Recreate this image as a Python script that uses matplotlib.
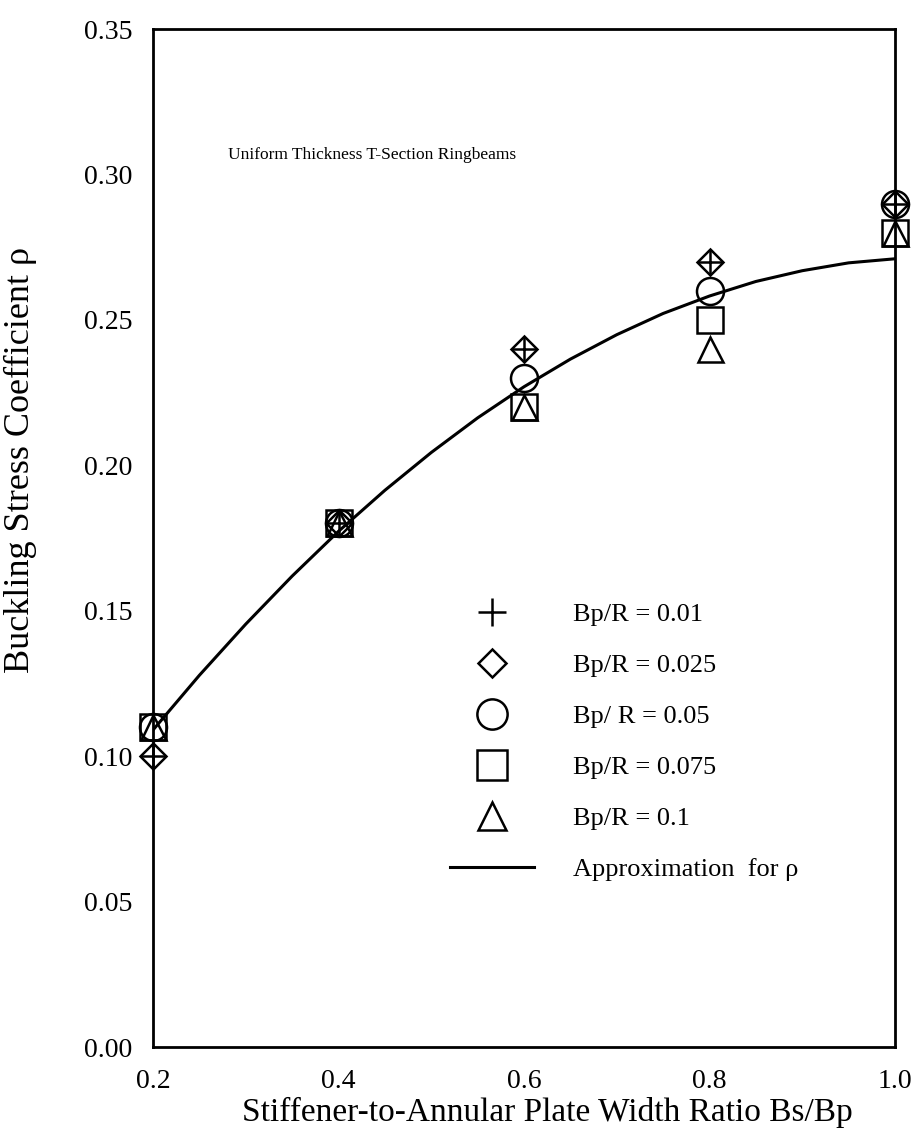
import numpy as np
import matplotlib.pyplot as plt
from matplotlib.lines import Line2D

plt.rcParams['font.family'] = ['Liberation Serif', 'DejaVu Serif']

# width ratio Bs/Bp
ratio = [0.2, 0.4, 0.6, 0.8, 1.0]

# buckling stress coefficient for each Bp/R
rho_001 = [0.10, 0.18, 0.24, 0.27, 0.29]
rho_0025 = [0.10, 0.18, 0.24, 0.27, 0.29]
rho_005 = [0.11, 0.18, 0.23, 0.26, 0.29]
rho_0075 = [0.11, 0.18, 0.22, 0.25, 0.28]
rho_01 = [0.11, 0.18, 0.22, 0.24, 0.28]

# approximation curve for rho
approx_x = [0.20, 0.25, 0.30, 0.35, 0.40, 0.45, 0.50, 0.55, 0.60,
            0.65, 0.70, 0.75, 0.80, 0.85, 0.90, 0.95, 1.00]
approx_y = [0.1090, 0.1278, 0.1454, 0.1619, 0.1773, 0.1914, 0.2044, 0.2163, 0.2270,
            0.2365, 0.2449, 0.2522, 0.2582, 0.2632, 0.2669, 0.2696, 0.2710]

labels = ['Bp/R = 0.01', 'Bp/R = 0.025', 'Bp/ R = 0.05', 'Bp/R = 0.075', 'Bp/R = 0.1']
x_ticks = [0.2, 0.4, 0.6, 0.8, 1.0]
y_ticks = [0.00, 0.05, 0.10, 0.15, 0.20, 0.25, 0.30, 0.35]

px = 72.0 / 100  # points per pixel
mew = 1.8

fig = plt.figure(figsize=(9.19, 11.33), dpi=100)
ax = fig.add_axes([0.1665, 0.0759, 0.8074, 0.8985])

ax.plot(approx_x, approx_y, color='black', lw=2.2, zorder=2)

styles = [('+', 25), ('D', 18), ('o', 27), ('s', 27), ('^', 25)]
series = [rho_001, rho_0025, rho_005, rho_0075, rho_01]
handles = []
for (m, size), vals, lab in zip(styles, series, labels):
    ax.plot(ratio, vals, ls='none', marker=m, ms=size * px, mfc='none',
            mec='black', mew=mew, zorder=3, clip_on=False)
    handles.append(Line2D([], [], ls='none', marker=m, ms=size * px * 1.12,
                          mfc='none', mec='black', mew=mew, label=lab))
handles.append(Line2D([], [], color='black', lw=2.2, label='Approximation  for \u03c1'))

ax.legend(handles=handles, loc='center left', bbox_to_anchor=(0.40, 0.2996),
          frameon=False, fontsize=19, handlelength=3.2, handletextpad=1.45,
          labelspacing=1.04, borderpad=0, borderaxespad=0)

ax.text(0.281, 0.3066, 'Uniform Thickness T-Section Ringbeams', fontsize=12.5,
        va='center', ha='left')

ax.set_xlim(0.2, 1.0)
ax.set_ylim(0.0, 0.35)
ax.set_xticks(x_ticks)
ax.set_xticklabels([f'{v:.1f}' for v in x_ticks])
ax.set_yticks(y_ticks)
ax.set_yticklabels([f'{v:.2f}' for v in y_ticks])
ax.tick_params(length=0, labelsize=20, pad=15)
ax.tick_params(axis='x', pad=16)
for s in ax.spines.values():
    s.set_linewidth(2.0)

ax.set_xlabel('Stiffener-to-Annular Plate Width Ratio Bs/Bp', fontsize=24)
ax.set_ylabel('Buckling Stress Coefficient \u03c1', fontsize=26)
ax.xaxis.set_label_coords(0.532, -0.049)
ax.yaxis.set_label_coords(-0.156, 0.577)

fig.savefig('out.png', dpi=100)
